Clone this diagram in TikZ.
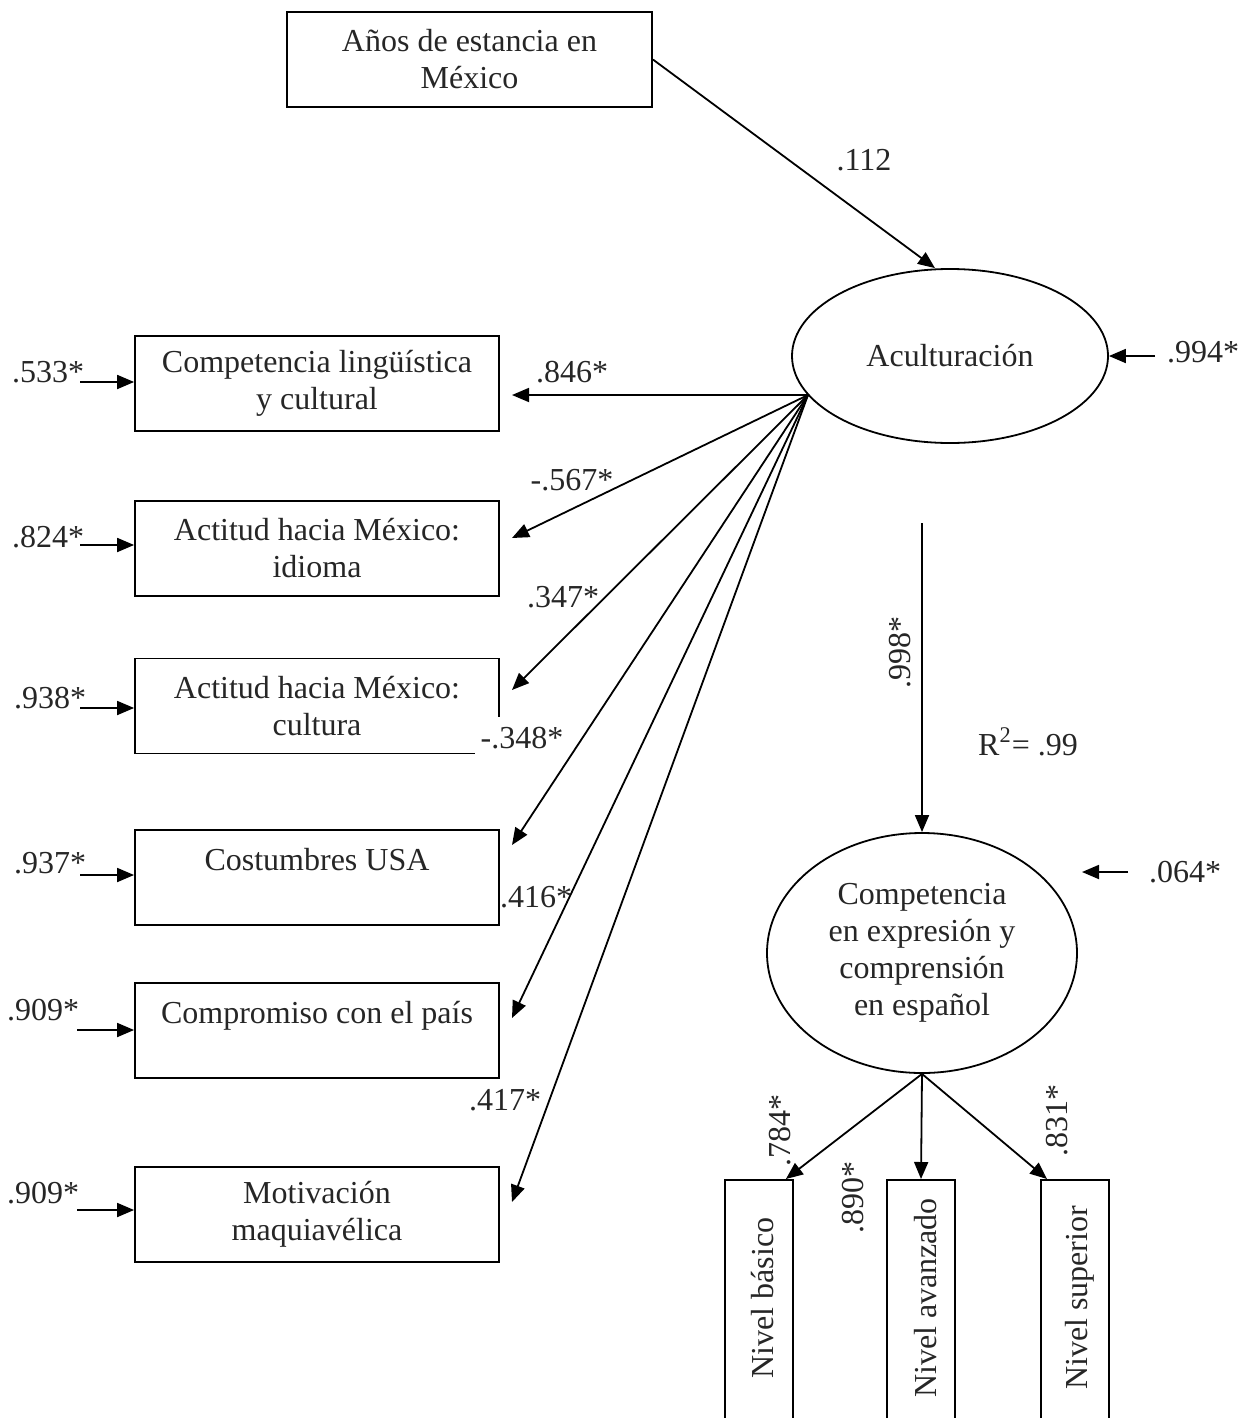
\documentclass[tikz,border=0pt]{standalone}
\usepackage{fontspec}
\setmainfont{Liberation Serif}
\usetikzlibrary{arrows.meta,shapes.geometric}
\begin{document}
\begin{tikzpicture}[x=0.5pt,y=-0.5pt,
  every node/.style={font=\fontsize{16}{18.5}\selectfont, text=black!85},
  conn/.style={line width=0.9pt,-{Triangle[length=8.5pt,width=7pt]}},
  obsbox/.style={draw,line width=0.9pt,rectangle,minimum width=182pt,minimum height=47.5pt,align=center,inner sep=0pt},
  latent/.style={draw,line width=0.9pt,ellipse,inner sep=0pt,align=center},
  lvlbox/.style={draw,line width=0.9pt,rectangle,minimum width=34pt,minimum height=140pt,anchor=north,inner sep=0pt},
  coef/.style={inner sep=0pt}]
\useasboundingbox (0,0) rectangle (1242,1418);

% top box
\node[obsbox,minimum width=182.5pt] (anios) at (469.5,59.5) {Años de estancia en\\México};

% Aculturacion
\node[latent,minimum width=158pt,minimum height=87pt] (acult) at (950,356) {Aculturación};

% left boxes
\node[obsbox] (b1) at (317,383.5) {Competencia lingüística\\y cultural};
\node[obsbox] (b2) at (317,548.5) {Actitud hacia México:\\idioma};
\node[obsbox] (b3) at (317,706) {Actitud hacia México:\\cultura};
\node[obsbox] (b4) at (317,877.5) {Costumbres USA\\\mbox{}};
\node[obsbox] (b5) at (317,1030.5) {Compromiso con el país\\\mbox{}};
\node[obsbox] (b6) at (317,1214.5) {Motivación\\maquiavélica};

% second latent
\node[latent,minimum width=155pt,minimum height=120pt] (comp) at (922,953) {Competencia\\en expresión y\\comprensión\\en español};

% bottom boxes
\node[lvlbox] (n1) at (759,1179) {};
\node[lvlbox] (n2) at (921,1179) {};
\node[lvlbox] (n3) at (1075,1179) {};
\node[rotate=90] (n1t) at (763,1298) {Nivel básico};
\node[rotate=90] (n2t) at (926,1298) {Nivel avanzado};
\node[rotate=90] (n3t) at (1080,1298) {Nivel superior};

% coordinates
\coordinate (src) at (808,395);
\coordinate (t1) at (512,395);
\coordinate (t2) at (512,538);
\coordinate (t3) at (512,690);
\coordinate (t4) at (512,845);
\coordinate (t5) at (512,1018);
\coordinate (t6) at (512,1202);
\coordinate (vtop) at (922,523);
\coordinate (r0) at (1155,356);
\coordinate (r7) at (1128,872);
\coordinate (r7e) at (1082,872);
\coordinate (r1) at (80,382);
\coordinate (r2) at (80,545);
\coordinate (r3) at (80,708);
\coordinate (r4) at (80,875);
\coordinate (r5) at (77,1030);
\coordinate (r6) at (77,1210);

% label covering corner of box 3
\node[coef,fill=white,inner xsep=3pt,minimum height=22pt] (l348) at (522,738.5) {-.348*};

% connectors
\draw[conn] (anios.east) -- ([xshift=-7.5pt]acult.north);
\draw[conn] (src) -- (t1);
\draw[conn] (src) -- (t2);
\draw[conn] (src) -- (t3);
\draw[conn] (src) -- (t4);
\draw[conn] (src) -- (t5);
\draw[conn] (src) -- (t6);
\draw[conn] (r0) -- (acult.east);
\draw[conn] (vtop) -- (comp.north);
\draw[conn] (r7) -- (r7e);
\draw[conn] (comp.south) -- ([xshift=-4pt]n1.north east);
\draw[conn] (comp.south) -- (n2.north);
\draw[conn] (comp.south) -- ([xshift=-14pt]n3.north);
\draw[conn] (r1) -- (r1 -| b1.west);
\draw[conn] (r2) -- (r2 -| b2.west);
\draw[conn] (r3) -- (r3 -| b3.west);
\draw[conn] (r4) -- (r4 -| b4.west);
\draw[conn] (r5) -- (r5 -| b5.west);
\draw[conn] (r6) -- (r6 -| b6.west);

% coefficients
\node[coef] (c112) at (864,160) {.112};
\node[coef] (c846) at (572,372) {.846*};
\node[coef] (c567) at (572,480) {-.567*};
\node[coef] (c347) at (563,597) {.347*};
\node[coef] (c416) at (536,897) {.416*};
\node[coef] (c417) at (505,1100) {.417*};
\node[coef] (c994) at (1203,352) {.994*};
\node[coef] (c064) at (1185,872) {.064*};
\node[coef] (cr2) at (1028,742) {R\textsuperscript{2}= .99};
\node[coef,rotate=90] (c998) at (900,652) {.998*};
\node[coef,rotate=90] (c784) at (780,1130) {.784*};
\node[coef,rotate=90] (c890) at (853,1197) {.890*};
\node[coef,rotate=90] (c831) at (1057,1120) {.831*};
\node[coef] (c533) at (48,372) {.533*};
\node[coef] (c824) at (48,537) {.824*};
\node[coef] (c938) at (50,698) {.938*};
\node[coef] (c937) at (50,863) {.937*};
\node[coef] (c909a) at (43,1010) {.909*};
\node[coef] (c909b) at (43,1193) {.909*};
\end{tikzpicture}
\end{document}
